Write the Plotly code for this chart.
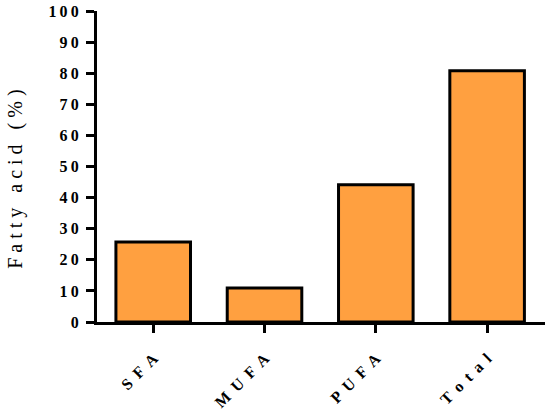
import plotly.graph_objects as go

categories = ["SFA", "MUFA", "PUFA", "Total"]
values = [25.7, 10.9, 44.1, 80.8]
y_ticks = [0, 10, 20, 30, 40, 50, 60, 70, 80, 90, 100]
y_title = "Fatty acid (%)"

THIN = "\u2009"


def spaced(s, sep=" "):
    return sep.join(s)


fig = go.Figure(
    go.Bar(
        x=categories,
        y=values,
        width=0.67,
        marker=dict(color="#FFA040", line=dict(color="black", width=3)),
    )
)

font = "Liberation Serif, DejaVu Serif, serif"
fig.update_layout(
    width=550,
    height=410,
    margin=dict(l=97, r=5, t=11, b=88, autoexpand=False),
    plot_bgcolor="white",
    paper_bgcolor="white",
    showlegend=False,
    font=dict(family=font, color="black"),
)
fig.update_xaxes(
    range=[-0.505, 3.52],
    tickmode="array",
    tickvals=categories,
    ticktext=[f"<b>{spaced(c, ' ' + THIN)}</b>" for c in categories],
    tickangle=-45,
    tickfont=dict(size=16),
    ticks="outside",
    ticklen=8,
    tickwidth=3,
    tickcolor="black",
    ticklabelstandoff=10,
    showline=True,
    linewidth=3,
    linecolor="black",
    showgrid=False,
    automargin=False,
)
fig.update_yaxes(
    range=[0, 100],
    tickmode="array",
    tickvals=y_ticks,
    ticktext=[f"<b>{spaced(str(t), THIN)}</b>" for t in y_ticks],
    tickfont=dict(size=16),
    ticks="outside",
    ticklen=8,
    tickwidth=3,
    tickcolor="black",
    ticklabelstandoff=4,
    ticklabeloverflow="allow",
    showline=True,
    linewidth=3,
    linecolor="black",
    showgrid=False,
    zeroline=False,
    automargin=False,
)

# axis title placed as an annotation so it sits where the original has it
words = [spaced(w) for w in y_title.split(" ")]
fig.add_annotation(
    text="   ".join(words),
    textangle=-90,
    xref="paper", yref="paper",
    x=-0.181, y=0.46,
    xanchor="center", yanchor="middle",
    showarrow=False,
    font=dict(size=20),
)

# drop the default 8px body margin so the figure fills the window
fig.write_html(
    "out.html",
    config={"displayModeBar": False},
    post_script="document.body.style.margin='0';",
)
